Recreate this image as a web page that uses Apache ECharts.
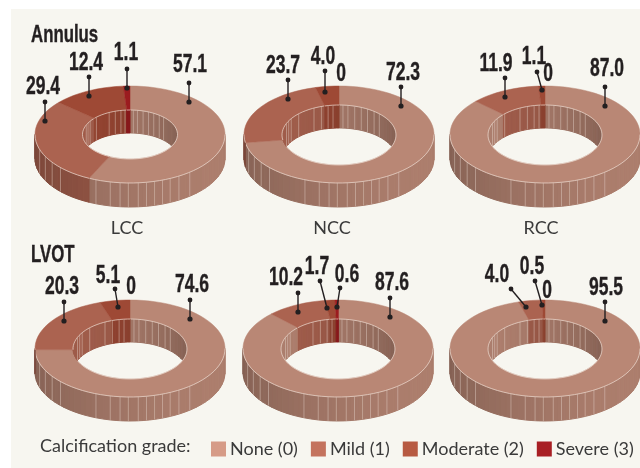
<!DOCTYPE html>
<html>
<head>
<meta charset="utf-8">
<title>Calcification grade by cusp</title>
<script src="https://cdn.jsdelivr.net/npm/echarts@6/dist/echarts.min.js"></script>
<style>html,body{margin:0;padding:0;background:#fff}#chart{width:640px;height:468px}</style>
</head>
<body>
<div id="chart"></div>
<script>
// Share of cusps (%) per grade, in grade order, one row per panel.
const grades = ['None (0)', 'Mild (1)', 'Moderate (2)', 'Severe (3)'];
const cusps = ['LCC', 'NCC', 'RCC'];
const regions = ['Annulus', 'LVOT'];
const annulusLCC = [57.1, 29.4, 12.4, 1.1];
const annulusNCC = [72.3, 23.7, 4.0, 0];
const annulusRCC = [87.0, 11.9, 1.1, 0];
const lvotLCC = [74.6, 20.3, 5.1, 0];
const lvotNCC = [87.6, 10.2, 1.7, 0.6];
const lvotRCC = [95.5, 4.0, 0.5, 0];
const panelValues = [annulusLCC, annulusNCC, annulusRCC, lvotLCC, lvotNCC, lvotRCC];

// Colours
const legendColors = ['#d69b87', '#c4735e', '#b75a42', '#a81f24'];
const faceColors = ['#b98775', '#ab6350', '#9e4935', '#9b1c1f'];
const rimColor = '#ecdcd3';
const seamColor = 'rgba(238,222,212,0.5)';

// Ring geometry: centre of each donut, radii and wall height.
const panelCentres = [[130, 134.5], [339, 134.5], [545, 134.5], [130, 348.5], [338, 348.5], [545, 348.5]];
const outerRing = { rx: 95, ry: 48.5, depth: 24 };
const innerRings = [
  { rx: 47.5, ry: 24.5, dy: 0, depth: 23 }, { rx: 57, ry: 30, dy: 0.5, depth: 23 }, { rx: 57, ry: 30, dy: 0.5, depth: 23 },
  { rx: 57, ry: 30, dy: 0.5, depth: 23 }, { rx: 57, ry: 30, dy: 0.5, depth: 23 }, { rx: 57, ry: 30, dy: 0.5, depth: 23 }
];

// Vertical facet seams, in degrees either side of the front (outer wall) and back (inner wall).
const outerSeams = [-39, -31, -25, -20, -15, -10, -5, 1, 6, 12, 21, 47, 55, 63, 72];
const innerSeams = [-67, -62, -57, -45, -26, -18, -11, -6, 4, 9, 16, 23, 30, 38, 45];

// Callout placement per panel and grade, relative to the donut's top point:
// [text x, text y, stem top x, stem top y, stem foot x, stem foot y]; text-only when the stem is absent.
const callouts = [
  [[60, -21, 59, -3, 59, 16], [-87, 1, -85, 16, -85, 35], [-44, -23, -41, -9, -41, 10], [-4, -33, -3, -17, -3, 2]],
  [[64, -13, 62, 1, 62, 20], [-56, -20, -51, -6, -51, 13], [-16, -29, -14, -15, -14, 6], [2, -12]],
  [[62, -17, 60, 1, 60, 20], [-49, -22, -40, -8, -40, 11], [-11, -29, -8, -14, -3, 4], [3, -12]],
  [[62, -15, 60, 0, 60, 19], [-68, -13, -66, 2, -66, 21], [-22, -24, -15, -11, -12, 7], [1, -13]],
  [[54, -17, 52, -2, 52, 17], [-52, -22, -40, -7, -40, 12], [-21, -33, -18, -19, -11, 8], [9, -25, 2, -12, -1, 7]],
  [[61, -12, 60, 2, 60, 21], [-48, -25, -34, -11, -19, 7], [-13, -33, -10, -19, -3, 5], [2, -9]]
];

const boldFace = '"Liberation Sans", Arial, sans-serif';
const bodyFont = 'Lato, "Open Sans", sans-serif';
const INK = '#231f20';
const STEP = 4;

function shade(hex, f) {
  const n = parseInt(hex.slice(1), 16);
  const ch = s => Math.round(((n >> s) & 255) * f);
  return 'rgb(' + ch(16) + ',' + ch(8) + ',' + ch(0) + ')';
}
const rad = d => d * Math.PI / 180;
function rimPoint(cx, cy, rx, ry, deg) {
  return [cx + rx * Math.sin(rad(deg)), cy - ry * Math.cos(rad(deg))];
}
// Angle stops between a and b, always landing on both ends.
function sweep(a, b) {
  const out = [];
  for (let d = a; d < b; d += STEP) out.push(d);
  out.push(b);
  return out;
}
function polygon(points, fill, strokeWidth) {
  return { type: 'polygon', shape: { points }, style: { fill, stroke: fill, lineWidth: strokeWidth } };
}

// One ring slice: upper face, outer wall where it faces front, inner wall where it faces back.
function renderSlice(grade) {
  return function (params, api) {
    const panel = api.value(0), startPct = api.value(1), pct = api.value(2);
    const children = [];
    if (!(pct > 0)) return { type: 'group', children };
    const [cx, cy] = panelCentres[panel];
    const inner = innerRings[panel];
    const icy = cy + inner.dy;
    const a0 = startPct * 3.6, a1 = (startPct + pct) * 3.6;
    const stops = sweep(a0, a1);
    const base = faceColors[grade];

    // Outer wall facets (front half of the circle)
    for (let i = 0; i < stops.length - 1; i++) {
      const s = Math.max(stops[i], 90), e = Math.min(stops[i + 1], 270);
      if (e <= s) continue;
      const mid = (s + e) / 2;
      const f = 0.82 + 0.1 * Math.sin(rad(mid)) - 0.05 * Math.cos(rad(mid));
      const p = rimPoint(cx, cy, outerRing.rx, outerRing.ry, s), q = rimPoint(cx, cy, outerRing.rx, outerRing.ry, e);
      children.push(polygon([p, q, [q[0], q[1] + outerRing.depth], [p[0], p[1] + outerRing.depth]], shade(base, f), 1));
    }
    // Inner wall facets (back half of the hole), trimmed to the hole's near edge
    const footY = (pt, deg) => Math.min(pt[1] + inner.depth, icy + inner.ry * Math.abs(Math.cos(rad(deg))));
    for (let i = 0; i < stops.length - 1; i++) {
      const s0 = stops[i], e0 = stops[i + 1];
      const ranges = [[s0, Math.min(e0, 90)], [Math.max(s0, 270), e0]];
      ranges.forEach(([s, e]) => {
        if (e <= s) return;
        const mid = (s + e) / 2;
        const f = 0.82 - 0.1 * Math.sin(rad(mid)) + 0.05 * Math.cos(rad(mid));
        const p = rimPoint(cx, icy, inner.rx, inner.ry, s), q = rimPoint(cx, icy, inner.rx, inner.ry, e);
        children.push(polygon([p, q, [q[0], footY(q, e)], [p[0], footY(p, s)]], shade(base, f), 1));
      });
    }
    // Facet seams on both walls
    outerSeams.forEach(off => {
      const d = 180 + off;
      if (d < a0 || d > a1) return;
      const p = rimPoint(cx, cy, outerRing.rx, outerRing.ry, d);
      children.push({ type: 'line', shape: { x1: p[0], y1: p[1], x2: p[0], y2: p[1] + outerRing.depth }, style: { stroke: seamColor, lineWidth: 0.8 } });
    });
    innerSeams.forEach(off => {
      const d = (off + 360) % 360;
      if (d < a0 || d > a1) return;
      const p = rimPoint(cx, icy, inner.rx, inner.ry, d);
      children.push({ type: 'line', shape: { x1: p[0], y1: p[1], x2: p[0], y2: footY(p, d) }, style: { stroke: seamColor, lineWidth: 0.8 } });
    });
    // Upper face with its light rim
    const outerEdge = stops.map(d => rimPoint(cx, cy, outerRing.rx, outerRing.ry, d));
    const innerEdge = stops.map(d => rimPoint(cx, icy, inner.rx, inner.ry, d));
    children.push(polygon(outerEdge.concat(innerEdge.slice().reverse()), base, 0.5));
    children.push({ type: 'polyline', shape: { points: innerEdge }, style: { stroke: rimColor, lineWidth: 0.7, fill: null } });
    if (a1 > 90 && a0 < 270) {
      const front = sweep(Math.max(a0, 90), Math.min(a1, 270));
      children.push({ type: 'polyline', shape: { points: front.map(d => rimPoint(cx, cy, outerRing.rx, outerRing.ry, d)) }, style: { stroke: rimColor, lineWidth: 0.7, fill: null } });
    }
    return { type: 'group', children };
  };
}

// Value text with its stem and the two end dots.
function renderCallout(params, api) {
  const panel = api.value(0), grade = api.value(1), value = api.value(2);
  const [cx, cy] = panelCentres[panel];
  const topY = cy - outerRing.ry;
  const c = callouts[panel][grade];
  const children = [];
  if (c.length > 2) {
    children.push({ type: 'line', shape: { x1: cx + c[2], y1: topY + c[3], x2: cx + c[4], y2: topY + c[5] }, style: { stroke: INK, lineWidth: 1.4 } });
    children.push({ type: 'circle', shape: { cx: cx + c[2], cy: topY + c[3], r: 2.4 }, style: { fill: INK } });
    children.push({ type: 'circle', shape: { cx: cx + c[4], cy: topY + c[5], r: 2.6 }, style: { fill: INK } });
  }
  children.push({
    type: 'text',
    x: cx + c[0], y: topY + c[1], scaleX: 0.7,
    style: {
      text: value === 0 ? '0' : value.toFixed(1),
      x: 0, y: 0, align: 'center', verticalAlign: 'middle',
      font: 'bold 25px ' + boldFace, fill: INK, stroke: INK, lineWidth: 0.4
    }
  });
  return { type: 'group', children };
}

const sliceSeries = grades.map((name, g) => ({
  name,
  type: 'custom',
  coordinateSystem: 'none',
  silent: true,
  z: 2,
  itemStyle: { color: legendColors[g] },
  renderItem: renderSlice(g),
  dimensions: ['panel', 'start', 'share'],
  data: panelValues.map((vals, p) => [p, vals.slice(0, g).reduce((a, b) => a + b, 0), vals[g]])
}));

const calloutRows = [];
panelValues.forEach((vals, p) => vals.forEach((v, g) => {
  calloutRows.push([p, g, v]);
}));

const headingText = (text, x, y) => ({
  type: 'text', x, y, scaleX: 0.7,
  style: { text, x: 0, y: 0, font: 'bold 24px ' + boldFace, fill: INK, stroke: INK, lineWidth: 0.4, textAlign: 'left', textVerticalAlign: 'middle' }
});
const captionText = (text, x) => ({
  type: 'text', x, y: 228,
  style: { text, font: '18px ' + bodyFont, fill: '#3a3a3a', textAlign: 'center', textVerticalAlign: 'middle' }
});

const chart = echarts.init(document.getElementById('chart'), null, { renderer: 'canvas' });
chart.setOption({
  animation: false,
  backgroundColor: '#ffffff',
  tooltip: { show: false },
  legend: {
    data: grades,
    left: 211,
    top: 440,
    width: 429,
    padding: 0,
    itemWidth: 15,
    itemHeight: 15,
    itemGap: 13,
    icon: 'rect',
    selectedMode: false,
    textStyle: { fontFamily: bodyFont, fontSize: 18, color: '#3a3a3a', padding: [0, 0, 4, -1] }
  },
  graphic: [
    { type: 'rect', z: -1, shape: { x: 11, y: 9, width: 629, height: 459 }, style: { fill: '#f7f6f0' } },
    headingText(regions[0], 31, 35),
    headingText(regions[1], 31, 255),
    captionText(cusps[0], 127),
    captionText(cusps[1], 332),
    captionText(cusps[2], 541),
    { type: 'text', x: 40, y: 446, style: { text: 'Calcification grade:', font: '18px ' + bodyFont, fill: '#3a3a3a', textAlign: 'left', textVerticalAlign: 'middle' } }
  ],
  series: sliceSeries.concat([{
    name: 'Values',
    type: 'custom',
    coordinateSystem: 'none',
    silent: true,
    z: 5,
    renderItem: renderCallout,
    dimensions: ['panel', 'grade', 'value'],
    data: calloutRows
  }])
});
</script>
</body>
</html>
